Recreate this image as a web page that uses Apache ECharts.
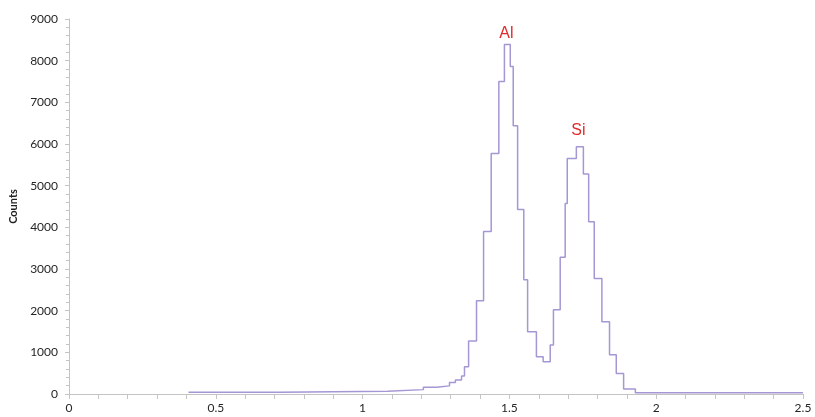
<!DOCTYPE html>
<html>
<head>
<meta charset="utf-8">
<script src="https://cdn.jsdelivr.net/npm/echarts@6/dist/echarts.min.js"></script>
<style>
  html, body { margin: 0; padding: 0; background: #ffffff; }
  #chart { width: 815px; height: 417px; }
</style>
</head>
<body>
<div id="chart"></div>
<script>
// Spectrum bins: left edge energy (keV) and counts held until the next edge
const binEdges = [
  0.407, 0.718, 1.085, 1.207, 1.252, 1.296, 1.316, 1.337, 1.347, 1.361,
  1.388, 1.412, 1.438, 1.464, 1.483, 1.503, 1.513, 1.528, 1.549, 1.562,
  1.592, 1.615, 1.639, 1.650, 1.673, 1.690, 1.697, 1.728, 1.752, 1.770,
  1.789, 1.815, 1.841, 1.864, 1.889, 1.929, 2.500
];
const binCounts = [
  40, 65, 105, 160, 195, 275, 335, 430, 655, 1270,
  2240, 3900, 5770, 7500, 8390, 7860, 6440, 4430, 2740, 1495,
  895, 775, 1175, 2020, 3280, 4570, 5650, 5935, 5280, 4135,
  2775, 1735, 945, 495, 120, 30, 30
];

// Element peak annotations
const peakNames = ['Al', 'Si'];
const peakLabelEnergy = [1.490, 1.735];
const peakLabelCounts = [8660, 6330];

// Axis ranges and ticks
const xMin = 0, xMax = 2.5, xStep = 0.5;
const yMin = 0, yMax = 9000, yStep = 1000;

const spectrum = binEdges.map((e, i) => [e, binCounts[i]]);

const chart = echarts.init(document.getElementById('chart'), null, { renderer: 'canvas' });

const axisGray = '#c4c4c4';
const labelFont = { fontFamily: 'Lato, "Liberation Sans", sans-serif', fontSize: 12, color: '#262626' };

chart.setOption({
  animation: false,
  backgroundColor: '#ffffff',
  grid: { left: 68, right: 12, top: 19, bottom: 23, containLabel: false },
  xAxis: {
    type: 'value',
    min: xMin, max: xMax, interval: xStep,
    axisLine: { show: true, lineStyle: { color: axisGray, width: 1 } },
    axisTick: { show: true, length: 5, lineStyle: { color: axisGray } },
    minorTick: { show: true, splitNumber: 5, length: 5, lineStyle: { color: axisGray } },
    splitLine: { show: false },
    axisLabel: Object.assign({ margin: 8, formatter: v => String(v) }, labelFont)
  },
  yAxis: {
    type: 'value',
    min: yMin, max: yMax, interval: yStep,
    name: 'Counts',
    nameLocation: 'middle',
    nameRotate: 90,
    nameGap: 50,
    nameTextStyle: { fontFamily: 'Lato, "Liberation Sans", sans-serif', fontSize: 11, fontWeight: 'bold', color: '#222222' },
    axisLine: { show: true, lineStyle: { color: axisGray, width: 1 } },
    axisTick: { show: true, length: 4, lineStyle: { color: axisGray } },
    minorTick: { show: true, splitNumber: 5, length: 3, lineStyle: { color: axisGray } },
    splitLine: { show: false },
    axisLabel: Object.assign({ margin: 11, formatter: v => String(v) }, labelFont)
  },
  series: [
    {
      type: 'line',
      step: 'end',
      data: spectrum,
      showSymbol: false,
      symbol: 'none',
      lineStyle: { color: '#a596d4', width: 1.5 },
      markPoint: {
        symbol: 'circle',
        symbolSize: 0,
        label: {
          show: true,
          position: 'inside',
          color: '#e02a2a',
          fontFamily: '"Liberation Sans", Arial, sans-serif',
          fontSize: 16,
          formatter: p => p.name
        },
        data: peakNames.map((n, i) => ({ name: n, coord: [peakLabelEnergy[i], peakLabelCounts[i]] }))
      }
    }
  ]
});
</script>
</body>
</html>
